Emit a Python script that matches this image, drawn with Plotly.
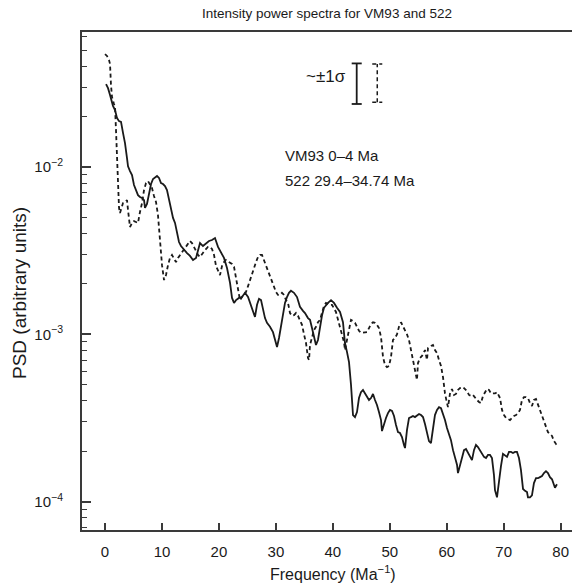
import plotly.graph_objects as go

# ---- data ----
freq_vm93 = [0.18,0.53,0.88,1.23,1.40,1.76,2.11,2.46,2.81,3.16,
3.51,3.86,4.04,4.39,4.74,5.09,5.44,5.79,6.14,6.50,
6.85,7.02,7.37,7.72,8.08,8.43,8.78,9.13,9.48,9.83,
10.18,10.53,10.88,11.24,11.59,11.94,12.29,12.64,12.99,13.34,
13.87,14.40,14.92,15.45,15.98,16.33,16.68,17.20,17.73,18.26,
18.78,19.31,19.84,20.36,20.89,21.42,21.95,22.30,22.65,23.00,
23.53,24.05,24.58,25.11,25.46,25.81,26.33,26.69,27.04,27.39,
27.74,28.09,28.44,28.97,29.49,29.85,30.20,30.55,30.90,31.25,
31.60,31.95,32.30,32.65,33.18,33.71,34.23,34.76,35.11,35.64,
35.99,36.34,36.69,37.04,37.39,37.75,38.10,38.45,38.80,39.15,
39.68,40.20,40.73,41.26,41.78,42.13,42.49,42.84,43.19,43.54,
43.89,44.24,44.59,44.94,45.29,45.65,46.00,46.35,46.70,47.05,
47.40,47.75,48.10,48.46,48.63,48.98,49.33,49.68,50.03,50.39,
50.74,51.09,51.44,51.79,52.14,52.49,52.67,53.02,53.37,53.72,
54.07,54.42,54.77,55.13,55.48,55.83,56.18,56.53,56.88,57.23,
57.58,57.93,58.29,58.64,58.99,59.34,59.69,60.04,60.39,60.74,
61.10,61.45,61.80,61.97,62.32,62.67,63.03,63.38,63.73,64.08,
64.43,64.78,65.13,65.48,65.84,66.19,66.54,66.89,67.24,67.59,
67.94,68.29,68.47,68.82,69.17,69.52,69.87,70.22,70.58,70.93,
71.28,71.63,71.98,72.33,72.68,73.03,73.39,73.74,74.09,74.26,
74.61,74.96,75.31,75.67,76.02,76.37,76.72,77.07,77.42,77.77,
78.12,78.48,78.83,79.00,79.35]

psd_vm93 = [0.0313,0.0296,0.0269,0.0241,0.0232,0.0219,0.0196,0.0188,0.0186,0.0160,
0.0139,0.0113,0.0101,0.00946,0.00895,0.00780,0.00718,0.00679,0.00662,0.00653,
0.00634,0.00569,0.00601,0.00709,0.00791,0.00848,0.00871,0.00883,0.00860,0.00802,
0.00791,0.00769,0.00728,0.00634,0.00553,0.00496,0.00463,0.00403,0.00356,0.00337,
0.00319,0.00306,0.00294,0.00278,0.00286,0.00319,0.00351,0.00337,0.00347,0.00361,
0.00366,0.00376,0.00333,0.00306,0.00286,0.00249,0.00203,0.00165,0.00154,0.00160,
0.00165,0.00167,0.00177,0.00167,0.00154,0.00140,0.00127,0.00150,0.00163,0.00160,
0.00140,0.00125,0.00117,0.00111,0.00103,0.000925,0.000839,0.000950,0.00114,0.00134,
0.00154,0.00167,0.00177,0.00182,0.00177,0.00167,0.00146,0.00138,0.00134,0.00125,
0.00122,0.00109,0.000950,0.000863,0.000925,0.00114,0.00130,0.00144,0.00150,0.00154,
0.00160,0.00154,0.00144,0.00136,0.00118,0.000887,0.000783,0.000682,0.000498,0.000329,
0.000320,0.000343,0.000416,0.000451,0.000465,0.000443,0.000428,0.000405,0.000416,0.000440,
0.000405,0.000378,0.000343,0.000307,0.000264,0.000291,0.000316,0.000338,0.000353,0.000348,
0.000325,0.000287,0.000260,0.000257,0.000243,0.000218,0.000209,0.000268,0.000316,0.000320,
0.000325,0.000320,0.000329,0.000334,0.000329,0.000320,0.000291,0.000260,0.000230,0.000224,
0.000279,0.000329,0.000353,0.000367,0.000362,0.000338,0.000307,0.000275,0.000254,0.000233,
0.000203,0.000182,0.000166,0.000148,0.000166,0.000187,0.000203,0.000206,0.000195,0.000185,
0.000177,0.000203,0.000218,0.000212,0.000203,0.000193,0.000185,0.000182,0.000190,0.000190,
0.000182,0.000144,0.000117,0.000106,0.000135,0.000163,0.000193,0.000190,0.000185,0.000198,
0.000198,0.000195,0.000198,0.000198,0.000182,0.000154,0.000119,0.000116,0.000114,0.000106,
0.000106,0.000109,0.000129,0.000138,0.000138,0.000140,0.000142,0.000148,0.000152,0.000148,
0.000140,0.000136,0.000126,0.000121,0.000127]

freq_522 = [0.00,0.35,0.70,0.88,1.05,1.23,1.58,1.76,1.93,2.11,
2.28,2.46,2.63,2.98,3.16,3.51,3.86,4.04,4.39,4.74,
5.09,5.44,5.79,6.14,6.50,6.85,7.20,7.55,7.90,8.25,
8.60,8.95,9.30,9.66,10.01,10.36,10.71,11.06,11.41,11.76,
12.11,12.46,12.82,13.17,13.52,13.87,14.22,14.57,14.92,15.27,
15.63,15.98,16.33,16.68,17.20,17.56,18.08,18.43,18.78,19.14,
19.49,19.84,20.19,20.54,20.89,21.24,21.59,21.95,22.30,22.65,
23.00,23.35,23.70,24.05,24.40,24.75,25.11,25.46,25.81,26.16,
26.51,26.86,27.21,27.56,27.91,28.27,28.62,28.97,29.32,29.67,
30.02,30.37,30.72,31.07,31.43,31.78,32.13,32.48,32.83,33.18,
33.53,33.88,34.23,34.59,34.94,35.29,35.64,35.82,35.99,36.34,
36.69,37.04,37.39,37.75,38.10,38.45,38.80,39.15,39.50,39.85,
40.20,40.55,40.91,41.26,41.61,41.96,42.13,42.49,42.84,43.19,
43.54,43.89,44.24,44.59,44.94,45.29,45.65,46.00,46.35,46.70,
47.05,47.40,47.75,48.10,48.46,48.81,49.16,49.51,49.86,50.21,
50.56,50.91,51.26,51.61,51.97,52.32,52.67,53.02,53.37,53.72,
54.07,54.42,54.77,54.95,55.30,55.65,56.00,56.18,56.53,56.71,
57.23,57.58,57.93,58.29,58.64,58.99,59.34,59.69,60.04,60.22,
60.57,60.92,61.27,61.62,61.97,62.32,62.85,63.20,63.55,63.90,
64.26,64.61,64.96,65.31,65.66,66.01,66.36,66.71,67.06,67.42,
67.77,68.12,68.47,68.82,69.35,69.70,70.05,70.40,70.75,71.10,
71.45,71.81,72.16,72.51,72.86,73.21,73.56,73.91,74.26,74.61,
74.96,75.31,75.67,76.02,76.37,76.72,77.07,77.42,77.77,78.12,
78.48,78.83,79.18,79.53]

psd_522 = [0.0473,0.0461,0.0436,0.0413,0.0309,0.0262,0.0238,0.0228,0.0166,0.0110,
0.00662,0.00569,0.00531,0.00577,0.00609,0.00618,0.00634,0.00553,0.00438,0.00463,
0.00475,0.00469,0.00463,0.00538,0.00609,0.00728,0.00802,0.00824,0.00791,0.00749,
0.00671,0.00618,0.00516,0.00366,0.00259,0.00211,0.00226,0.00259,0.00286,0.00298,
0.00286,0.00270,0.00286,0.00298,0.00310,0.00319,0.00333,0.00351,0.00361,0.00351,
0.00333,0.00310,0.00298,0.00290,0.00310,0.00319,0.00333,0.00333,0.00324,0.00298,
0.00256,0.00242,0.00226,0.00256,0.00270,0.00278,0.00274,0.00267,0.00263,0.00253,
0.00217,0.00184,0.00160,0.00167,0.00174,0.00179,0.00194,0.00211,0.00233,0.00253,
0.00270,0.00290,0.00298,0.00298,0.00278,0.00259,0.00242,0.00226,0.00211,0.00197,
0.00179,0.00172,0.00172,0.00177,0.00172,0.00160,0.00154,0.00134,0.00129,0.00130,
0.00134,0.00129,0.00122,0.00114,0.000998,0.000887,0.000721,0.000702,0.000863,0.000976,
0.00106,0.00111,0.00118,0.00122,0.00136,0.00148,0.00154,0.00152,0.00150,0.00150,
0.00144,0.00136,0.00122,0.00111,0.000998,0.000898,0.000805,0.000925,0.00106,0.00122,
0.00120,0.00117,0.00111,0.00105,0.00102,0.00102,0.00102,0.00103,0.00109,0.00115,
0.00118,0.00117,0.00114,0.00109,0.000962,0.000731,0.000655,0.000637,0.000646,0.000731,
0.000925,0.000950,0.000998,0.00111,0.00118,0.00112,0.00106,0.000998,0.000925,0.000805,
0.000702,0.000612,0.000533,0.000673,0.000721,0.000742,0.000783,0.000805,0.000702,0.000828,
0.000851,0.000863,0.000805,0.000772,0.000702,0.000646,0.000555,0.000443,0.000388,0.000367,
0.000443,0.000471,0.000434,0.000440,0.000465,0.000477,0.000484,0.000471,0.000458,0.000434,
0.000428,0.000434,0.000416,0.000405,0.000394,0.000388,0.000428,0.000451,0.000471,0.000465,
0.000443,0.000443,0.000443,0.000451,0.000416,0.000353,0.000329,0.000316,0.000312,0.000307,
0.000316,0.000325,0.000329,0.000338,0.000353,0.000405,0.000421,0.000421,0.000416,0.000388,
0.000373,0.000405,0.000410,0.000378,0.000353,0.000329,0.000303,0.000279,0.000260,0.000254,
0.000247,0.000230,0.000221,0.000227]

# +/- 1 sigma indicator bars: [VM93 (solid), 522 (dashed)]
sigma_freq = [44.19, 47.8]
sigma_low = [0.0238, 0.0244]
sigma_high = [0.0416, 0.0413]
sigma_cap = 0.88

x_ticks = [0, 10, 20, 30, 40, 50, 60, 70, 80]
y_ticks = [1e-4, 1e-3, 1e-2]
y_ticktext = ["10<sup>\u22124</sup>", "10<sup>\u22123</sup>", "10<sup>\u22122</sup>"]
y_minor = [k * 10.0 ** e for e in (-5, -4, -3, -2, -1) for k in range(2, 10)]

FONT = "Liberation Sans, Arial, Helvetica, sans-serif"
INK = "#1a1a1a"
AX = "#3a3a3a"


def bar_segments(i):
    f, lo, hi, c = sigma_freq[i], sigma_low[i], sigma_high[i], sigma_cap
    xs = [f, f, None, f - c, f + c, None, f - c, f + c]
    ys = [lo, hi, None, lo, lo, None, hi, hi]
    return xs, ys


fig = go.Figure()
fig.add_trace(go.Scatter(x=freq_vm93, y=psd_vm93, mode="lines", name="VM93 0\u20134 Ma",
                         line=dict(color=INK, width=1.8)))
fig.add_trace(go.Scatter(x=freq_522, y=psd_522, mode="lines", name="522 29.4\u201334.74 Ma",
                         line=dict(color=INK, width=1.8, dash="4px,3px")))
bx, by = bar_segments(0)
fig.add_trace(go.Scatter(x=bx, y=by, mode="lines", line=dict(color=INK, width=1.8),
                         hoverinfo="skip"))
bx, by = bar_segments(1)
fig.add_trace(go.Scatter(x=bx, y=by, mode="lines", line=dict(color=INK, width=1.5, dash="4px,3px"),
                         hoverinfo="skip"))

fig.update_layout(
    width=572, height=585,
    margin=dict(l=82, r=0, t=32, b=55),
    plot_bgcolor="white", paper_bgcolor="white",
    showlegend=False,
    font=dict(family=FONT, size=15, color=INK),
    title=dict(text="Intensity power spectra for VM93 and 522", x=0.5, xref="paper",
               xanchor="center", y=1 - 13 / 585, yanchor="middle",
               font=dict(family=FONT, size=13.5, color=INK)),
)
fig.update_xaxes(
    range=[-4.04, 81.99], tickmode="array", tickvals=x_ticks,
    ticks="inside", ticklen=7, tickwidth=1.5, tickcolor=AX,
    showline=True, linecolor=AX, linewidth=2, mirror=True,
    showgrid=False, zeroline=False,
    tickfont=dict(family=FONT, size=15, color=INK), ticklabelstandoff=7,
)
fig.update_yaxes(
    type="log", range=[-4.1698, -1.1931], tickmode="array", tickvals=y_ticks, ticktext=y_ticktext,
    ticks="inside", ticklen=9, tickwidth=1.5, tickcolor=AX,
    minor=dict(tickmode="array", tickvals=y_minor, ticks="inside", ticklen=5, tickwidth=1.3,
               tickcolor=AX, showgrid=False),
    showline=True, linecolor=AX, linewidth=2, mirror=False,
    showgrid=False, zeroline=False,
    tickfont=dict(family=FONT, size=15, color=INK), ticklabelstandoff=14,
)

fig.add_annotation(text="Frequency (Ma<sup>\u22121</sup>)", xref="x", yref="paper",
                   x=40, y=(530 - 573) / 498, xanchor="center", yanchor="middle",
                   showarrow=False, font=dict(family=FONT, size=16, color=INK))
fig.add_annotation(text="PSD (arbitrary units)", xref="paper", yref="paper",
                   x=(19 - 82) / 490, y=(530 - 293) / 498, textangle=-90,
                   xanchor="center", yanchor="middle",
                   showarrow=False, font=dict(family=FONT, size=19, color=INK))
fig.add_annotation(text="VM93 0\u20134 Ma", xref="x", yref="paper",
                   x=31.3, y=(530 - 155) / 498, xanchor="left", yanchor="middle",
                   showarrow=False, font=dict(family=FONT, size=15, color=INK))
fig.add_annotation(text="522 29.4\u201334.74 Ma", xref="x", yref="paper",
                   x=31.3, y=(530 - 181) / 498, xanchor="left", yanchor="middle",
                   showarrow=False, font=dict(family=FONT, size=15, color=INK))
fig.add_annotation(text="~\u00b11\u03c3", xref="x", yref="paper",
                   x=42.66, y=(530 - 76) / 498, xanchor="right", yanchor="middle",
                   showarrow=False, font=dict(family=FONT, size=17, color=INK))

fig.write_html("out.html", config={"displayModeBar": False},
               post_script="document.body.style.margin='0';document.body.style.overflow='hidden';")
